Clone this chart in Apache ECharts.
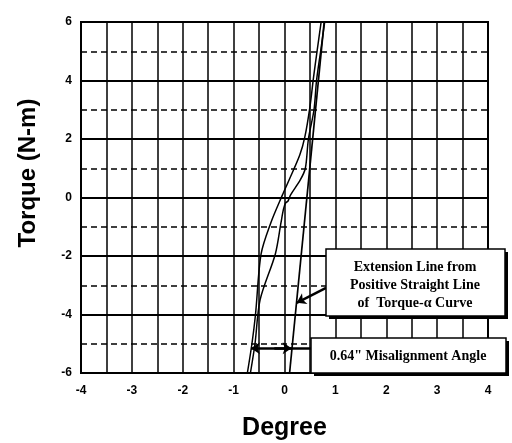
<!DOCTYPE html>
<html>
<head>
<meta charset="utf-8">
<script src="https://cdn.jsdelivr.net/npm/echarts@6/dist/echarts.min.js"></script>
<style>
  html, body { margin: 0; padding: 0; background: #fff; }
  #chart { width: 512px; height: 443px; }
</style>
</head>
<body>
<div id="chart"></div>
<script>
// torque-alpha curve, two branches of the loop (degree, N-m)
const branchAx = [-0.73, -0.64, -0.57, -0.46, -0.27, -0.04, 0.09, 0.30, 0.40, 0.50, 0.57, 0.64, 0.72];
const branchAy = [-6, -5, -4, -1.93, -0.87, 0.09, 0.6, 1.45, 2.07, 3.1, 4.1, 5, 6];
const branchBx = [-0.67, -0.58, -0.48, -0.18, -0.07, -0.02, 0.02, 0.07, 0.12, 0.31, 0.41, 0.47, 0.58, 0.63, 0.71, 0.79];
const branchBy = [-6, -5, -3.5, -1.93, -0.87, -0.4, -0.19, -0.12, 0.09, 0.6, 1, 2, 3, 4, 5, 6];
// extension of the positive straight part
const extX = [0.1, 0.78];
const extY = [-6, 6];
// annotation leaders
const leader1 = [[0.816, -3.09], [0.24, -3.6]];
const leader2 = [[0.52, -5.15], [-0.66, -5.15]];
const leader2Head = [[-0.2, -5.15], [0.14, -5.15]];
const xTicks = [-4, -3, -2, -1, 0, 1, 2, 3, 4];
const yTicks = [-6, -4, -2, 0, 2, 4, 6];

const pairs = (xs, ys) => xs.map((x, i) => [x, ys[i]]);

const chart = echarts.init(document.getElementById('chart'));
const labelFont = { color: '#000', fontFamily: 'Liberation Sans', fontWeight: 'bold', fontSize: 12 };
const curveStyle = { color: '#000', width: 1.5 };

chart.setOption({
    animation: false,
    grid: {
        left: 81, right: 24, top: 22, bottom: 70,
        outerBoundsMode: 'none',
        show: true, borderColor: '#000', borderWidth: 2
    },
    xAxis: {
        type: 'value',
        min: xTicks[0], max: xTicks[xTicks.length - 1], interval: 1,
        name: 'Degree', nameLocation: 'middle', nameGap: 43,
        nameTextStyle: { color: '#000', fontFamily: 'Liberation Sans', fontWeight: 'bold', fontSize: 25 },
        axisLine: { show: false },
        axisTick: { show: false },
        axisLabel: Object.assign({ margin: 12 }, labelFont),
        splitLine: { show: true, lineStyle: { color: '#000', width: 1.5 } },
        minorTick: { show: false, splitNumber: 2 },
        minorSplitLine: { show: true, lineStyle: { color: '#000', width: 1.5 } }
    },
    yAxis: {
        type: 'value',
        min: yTicks[0], max: yTicks[yTicks.length - 1], interval: 2,
        axisLine: { show: false },
        axisTick: { show: false },
        axisLabel: Object.assign({ margin: 9 }, labelFont),
        splitLine: { show: true, lineStyle: { color: '#000', width: 2 } },
        minorTick: { show: false, splitNumber: 2 },
        minorSplitLine: { show: true, lineStyle: { color: '#000', width: 1.5, type: [6, 4] } }
    },
    series: [
        { type: 'line', data: pairs(branchAx, branchAy), showSymbol: false, smooth: 0.3, lineStyle: curveStyle, z: 5 },
        { type: 'line', data: pairs(branchBx, branchBy), showSymbol: false, smooth: 0.3, lineStyle: curveStyle, z: 5 },
        { type: 'line', data: pairs(extX, extY), showSymbol: false, lineStyle: { color: '#000', width: 1.7 }, z: 5 },
        {
            type: 'lines', coordinateSystem: 'cartesian2d', z: 6,
            symbol: ['none', 'arrow'], symbolSize: 9,
            lineStyle: { color: '#000', width: 2.5, opacity: 1 },
            data: [{ coords: leader1 }, { coords: leader2 }, { coords: leader2Head }]
        }
    ],
    graphic: [
        {
            type: 'text', x: 28, y: 173, rotation: Math.PI / 2,
            style: {
                text: 'Torque (N-m)', fill: '#000', font: 'bold 24px "Liberation Sans"',
                align: 'center', verticalAlign: 'middle'
            }
        },
        { type: 'rect', z: 100, shape: { x: 329, y: 252, width: 179, height: 67 }, style: { fill: '#000' } },
        { type: 'rect', z: 101, shape: { x: 326, y: 249, width: 179, height: 67 }, style: { fill: '#fff', stroke: '#000', lineWidth: 1.5 } },
        {
            type: 'text', z: 102, x: 415, y: 258,
            style: {
                text: 'Extension Line from\nPositive Straight Line\nof  Torque-\u03b1 Curve',
                fill: '#000', font: 'bold 14px "Liberation Serif"', align: 'center', lineHeight: 18
            }
        },
        { type: 'rect', z: 100, shape: { x: 314, y: 341, width: 195, height: 35 }, style: { fill: '#000' } },
        { type: 'rect', z: 101, shape: { x: 311, y: 338, width: 195, height: 35 }, style: { fill: '#fff', stroke: '#000', lineWidth: 1.5 } },
        {
            type: 'text', z: 102, x: 408, y: 356,
            style: {
                text: '0.64" Misalignment Angle',
                fill: '#000', font: 'bold 14px "Liberation Serif"', align: 'center', verticalAlign: 'middle'
            }
        }
    ]
});
</script>
</body>
</html>
